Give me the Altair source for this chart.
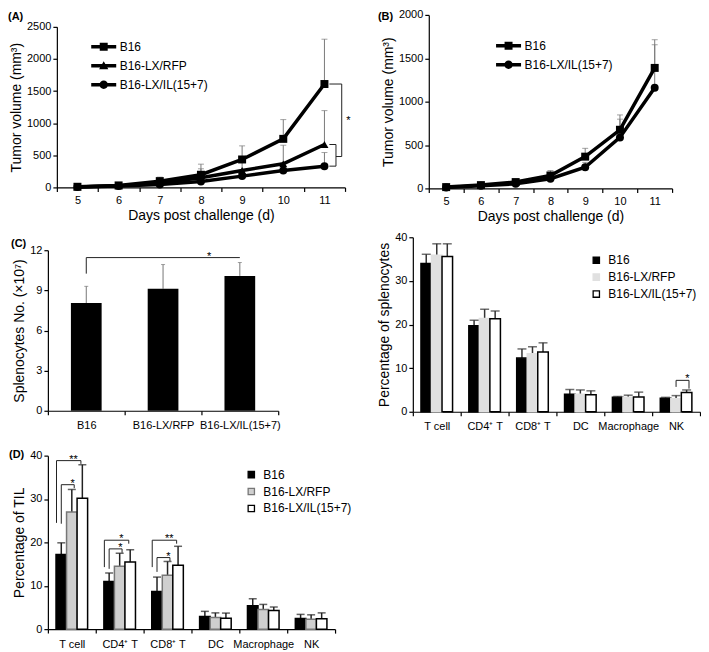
import json
import altair as alt
import pandas as pd

FONT = "Liberation Sans"

# ---------------- Panel A : tumour growth, three groups ----------------
days = [5, 6, 7, 8, 9, 10, 11]
a_names = ["B16", "B16-LX/RFP", "B16-LX/IL(15+7)"]
a_b16 = [10, 31, 98, 197, 435, 756, 1610]
a_b16_err = [18, 45, 160, 362, 647, 1056, 2308]
a_rfp = [8, 24, 70, 150, 264, 367, 668]
a_rfp_err = [14, 38, 130, 290, 430, 657, 1196]
a_il = [5, 21, 47, 93, 176, 264, 331]
a_il_err = [10, 30, 85, 160, 260, 330, 543]
a_yticks = [0, 500, 1000, 1500, 2000, 2500]
# significance brackets (x in days, y in mm3)
a_br_x = [11.12, 11.42, 11.42, 11.12, 11.28, 11.28]
a_br_x2 = [11.42, 11.42, 11.28, 11.28, 11.28, 11.12]
a_br_y = [1610, 1610, 481, 668, 668, 331]
a_br_y2 = [1610, 481, 481, 668, 331, 331]
a_star_x = [11.58]
a_star_y = [1040]
a_star_t = ["*"]

# ---------------- Panel B : tumour growth, two groups ----------------
b_names = ["B16", "B16-LX/IL(15+7)"]
b_b16 = [15, 38, 73, 149, 366, 676, 1389]
b_b16_err = [22, 48, 95, 206, 462, 847, 1714]
b_il = [11, 30, 53, 111, 244, 588, 1160]
b_il_err = [16, 38, 70, 168, 300, 798, 1656]
b_yticks = [0, 500, 1000, 1500, 2000]

# ---------------- Panel C : splenocyte numbers ----------------
c_cats = ["B16", "B16-LX/RFP", "B16-LX/IL(15+7)"]
c_vals = [8.05, 9.12, 10.08]
c_errs = [9.3, 10.93, 11.08]
c_yticks = [0, 3, 6, 9, 12]

# ---------------- Splenocyte subsets ----------------
cell_cats = ["T cell", "CD4\u207a T", "CD8\u207a T", "DC", "Macrophage", "NK"]
grp_names = ["B16", "B16-LX/RFP", "B16-LX/IL(15+7)"]
s_b16 = [34.0, 19.7, 12.3, 4.0, 3.3, 3.1]
s_b16_err = [36.1, 21.0, 14.4, 5.1, 3.5, 3.3]
s_rfp = [35.9, 21.4, 13.3, 4.0, 3.3, 3.0]
s_rfp_err = [38.5, 23.5, 14.9, 5.0, 3.8, 3.7]
s_il = [35.6, 21.3, 13.7, 3.9, 3.4, 4.4]
s_il_err = [38.5, 23.1, 15.8, 4.8, 4.5, 5.0]
pct_yticks = [0, 10, 20, 30, 40]

# ---------------- Panel D : TIL subsets ----------------
d_b16 = [17.2, 11.0, 8.7, 2.9, 5.4, 2.45]
d_b16_err = [19.9, 12.95, 12.0, 4.1, 7.0, 3.4]
d_rfp = [27.0, 14.5, 12.4, 2.7, 4.5, 2.3]
d_rfp_err = [32.2, 17.5, 15.6, 3.75, 5.7, 3.3]
d_il = [30.2, 15.5, 14.7, 2.5, 4.3, 2.4]
d_il_err = [37.9, 18.3, 19.1, 3.7, 5.1, 3.75]
# brackets: category, from bar, to bar, top, left foot, right foot, label
d_br_cat = [0, 0, 1, 1, 2, 2]
d_br_from = [0, 0, 0, 0, 0, 0]
d_br_to = [2, 1, 2, 1, 2, 1]
d_br_top = [38.85, 33.3, 20.5, 18.5, 20.5, 16.5]
d_br_lbot = [24.5, 24.3, 14.3, 13.9, 14.3, 13.2]
d_br_rbot = [38.1, 32.5, 19.7, 17.6, 19.7, 15.7]
d_br_lab = ["**", "*", "*", "*", "**", "*"]

s_br_cat = [5]
s_br_from = [1]
s_br_to = [2]
s_br_top = [7.2]
s_br_lbot = [5.7]
s_br_rbot = [5.3]
s_br_lab = ["*"]

TXT = dict(font=FONT, color="black")
HALF_TICKS = {"condition": {"test": "datum.value % 1 !== 0", "value": 1}, "value": 0}


def panel_label(text, px, py):
    return alt.Chart(pd.DataFrame({"t": [text]})).mark_text(
        align="left", baseline="middle", fontSize=11, fontWeight="bold", **TXT
    ).encode(text="t:N", x=alt.value(px), y=alt.value(py))


# ------------------------------------------------------------------
def line_panel(names, vals, errs, shapes, paths, width, height, ymax, yticks,
               xoff, ytop, leg_xy, label, label_xy, brackets=None, stars=None):
    rows = []
    for n, v, e in zip(names, vals, errs):
        for d, vv, ee in zip(days, v, e):
            rows.append({"day": d, "series": n, "vol": vv, "err": ee})
    df = pd.DataFrame(rows)
    xs = alt.Scale(domain=[4.5, 11.5], nice=False, zero=False, range=[xoff, width])
    ys = alt.Scale(domain=[0, ymax], nice=False, range=[height, ytop])
    xax = alt.Axis(
        values=[4.5 + 0.5 * k for k in range(15)],
        labelExpr="datum.value % 1 === 0 ? format(datum.value, 'd') : ''",
        tickOpacity=HALF_TICKS, title="Days post challenge (d)",
        labelOverlap=False, labelFlush=False, grid=False, labelPadding=3,
    )
    yax = alt.Axis(values=yticks, format="d", title="Tumor volume (mm\u00b3)", grid=False,
                   offset=-xoff)

    def X(f):
        return alt.X(f + ":Q", scale=xs, axis=xax)

    def Y(f):
        return alt.Y(f + ":Q", scale=ys, axis=yax)

    base = alt.Chart(df)
    err_line = base.mark_rule(color="#7a7a7a", strokeWidth=1).encode(
        x=X("day"), y=Y("vol"), y2="err:Q")
    err_cap = base.mark_tick(color="#7a7a7a", thickness=1, size=6, orient="horizontal").encode(
        x=X("day"), y=Y("err"))
    lines = base.mark_line(color="black", strokeWidth=3.5).encode(
        x=X("day"), y=Y("vol"), detail="series:N")
    pts = base.mark_point(filled=True, color="black", opacity=1, size=64).encode(
        x=X("day"), y=Y("vol"),
        shape=alt.Shape("series:N", scale=alt.Scale(domain=names, range=shapes), legend=None))
    leg = base.mark_point(filled=True, color="black", opacity=1, size=1).encode(
        x=X("day"), y=Y("vol"),
        shape=alt.Shape("series:N", scale=alt.Scale(domain=names, range=paths),
                        legend=alt.Legend(title=None, orient="none", legendX=leg_xy[0],
                                          legendY=leg_xy[1], symbolSize=196,
                                          symbolStrokeWidth=0, symbolFillColor="black",
                                          symbolOpacity=1, labelFontSize=12, labelOffset=9,
                                          rowPadding=6, labelFont=FONT, labelColor="black")))
    layers = [err_line, err_cap, lines, pts, leg]
    if brackets is not None:
        bdf = pd.DataFrame(brackets)
        layers.append(alt.Chart(bdf).mark_rule(color="#222222", strokeWidth=1).encode(
            x=X("x"), x2="x2:Q", y=Y("y"), y2="y2:Q"))
    if stars is not None:
        sdf = pd.DataFrame(stars)
        layers.append(alt.Chart(sdf).mark_text(fontSize=11, baseline="middle", **TXT).encode(
            x=X("x"), y=Y("y"), text="t:N"))
    layers.append(panel_label(label, *label_xy))
    return alt.layer(*layers).resolve_scale(shape="independent").properties(
        width=width, height=height)


# ------------------------------------------------------------------
def bar_panel(cats, groups, vals, errs, fills, strokes, bw, offs, width, height, ytop, ymax,
              yticks, ytitle, label, label_xy, err_color, err_w, cap_size,
              leg_xy=None, brackets=None, stroke_w=1.5):
    rows = []
    for gi, (g, v, e) in enumerate(zip(groups, vals, errs)):
        for ci, (vv, ee) in enumerate(zip(v, e)):
            c = ci + offs[gi]
            rows.append({"grp": g, "val": vv, "err": ee, "xc": c,
                         "x1": c - bw / 2, "x2": c + bw / 2})
    df = pd.DataFrame(rows)
    n = len(cats)
    xs = alt.Scale(domain=[-0.5, n - 0.5], nice=False, zero=False)
    ys = alt.Scale(domain=[0, ymax], nice=False, range=[height, ytop])
    xax = alt.Axis(
        values=[-0.5 + 0.5 * k for k in range(2 * n + 1)],
        labelExpr="datum.value % 1 === 0 ? " + json.dumps(cats) + "[datum.value] : ''",
        title=None, labelOverlap=False, labelFlush=False, tickOpacity=HALF_TICKS,
        grid=False, labelPadding=5,
    )
    yax = alt.Axis(values=yticks, title=ytitle, grid=False)

    def X(f):
        return alt.X(f + ":Q", scale=xs, axis=xax)

    def Y(f):
        return alt.Y(f + ":Q", scale=ys, axis=yax)

    base = alt.Chart(df)
    if leg_xy is not None:
        lg = alt.Legend(title=None, orient="none", legendX=leg_xy[0], legendY=leg_xy[1],
                        symbolType="square", symbolSize=40, symbolStrokeWidth=1.3,
                        labelFontSize=12, labelOffset=6, rowPadding=5, labelFont=FONT,
                        labelColor="black")
    else:
        lg = None
    col = alt.Color("grp:N", scale=alt.Scale(domain=groups, range=fills), legend=lg)
    stk = alt.Stroke("grp:N", scale=alt.Scale(domain=groups, range=strokes), legend=lg)
    bars = base.mark_bar(strokeWidth=stroke_w, opacity=1).encode(
        x=X("x1"), x2="x2:Q", y=Y("val"), y2=alt.datum(0), color=col, stroke=stk)
    err_line = base.mark_rule(color=err_color, strokeWidth=err_w).encode(
        x=X("xc"), y=Y("val"), y2="err:Q")
    err_cap = base.mark_tick(color=err_color, thickness=err_w, size=cap_size,
                             orient="horizontal").encode(x=X("xc"), y=Y("err"))
    layers = [err_line, bars, err_cap]
    if brackets is not None:
        segs, stars = brackets
        layers.append(alt.Chart(pd.DataFrame(segs)).mark_rule(color="#222222", strokeWidth=1).encode(
            x=X("x"), x2="x2:Q", y=Y("y"), y2="y2:Q"))
        layers.append(alt.Chart(pd.DataFrame(stars)).mark_text(
            fontSize=11, baseline="alphabetic", dy=2, **TXT).encode(
            x=X("x"), y=Y("y"), text="t:N"))
    if label:
        layers.append(panel_label(label, *label_xy))
    return alt.layer(*layers).properties(width=width, height=height)


def bracket_segments(cat, frm, to, top, lbot, rbot, lab, offs):
    segs, stars = [], []
    for c, f, t, tp, lb, rb, lb_ in zip(cat, frm, to, top, lbot, rbot, lab):
        outer = (t - f) >= 2
        xl = c + offs[f] + (-0.1 if outer else 0.0)
        xr = c + offs[t] + (-0.03 if outer else 0.05)
        segs += [dict(x=xl, x2=xr, y=tp, y2=tp), dict(x=xl, x2=xl, y=tp, y2=lb),
                 dict(x=xr, x2=xr, y=tp, y2=rb)]
        stars.append(dict(x=(xl + xr) / 2 + 0.1, y=tp, t=lb_))
    return segs, stars


# ---------------- build panels ----------------
line_w = "M-1.79,-0.25H1.79V0.25H-1.79Z"
p_sq = line_w + " M-0.57,-0.57H0.57V0.57H-0.57Z"
p_tri = line_w + " M0,-0.65L0.66,0.5L-0.66,0.5Z"
p_cir = line_w + " M-0.6,0A0.6,0.6 0 1,1 0.6,0A0.6,0.6 0 1,1 -0.6,0Z"

a_brackets = [dict(x=a, x2=b, y=c, y2=d) for a, b, c, d in zip(a_br_x, a_br_x2, a_br_y, a_br_y2)]
a_stars = [dict(x=a, y=b, t=c) for a, b, c in zip(a_star_x, a_star_y, a_star_t)]

chartA = line_panel(a_names, [a_b16, a_rfp, a_il], [a_b16_err, a_rfp_err, a_il_err],
                    ["square", "triangle-up", "circle"], [p_sq, p_tri, p_cir],
                    298, 173, 2500, a_yticks, 9, 12, (49, 25), "(A)", (-40, 2),
                    brackets=a_brackets, stars=a_stars)
chartB = line_panel(b_names, [b_b16, b_il], [b_b16_err, b_il_err],
                    ["square", "circle"], [p_sq, p_cir],
                    260, 174, 2000, b_yticks, 16, 0, (89, 24), "(B)", (-35, 2))

c_segs = [dict(x=0, x2=2, y=11.45, y2=11.45), dict(x=0, x2=0, y=11.45, y2=10.25)]
c_stars = [dict(x=1.6, y=11.45, t="*")]
chartC = bar_panel(c_cats, ["all"], [c_vals], [c_errs], ["black"], ["black"], 0.4, [0.0],
                   231, 174, 13, 12, c_yticks, "Splenocytes No. (\u00d710\u2077)", "(C)", (-37, 7),
                   "#777777", 1, 4, brackets=(c_segs, c_stars), stroke_w=0)

offs3 = [-0.22, 0.0, 0.22]
chartS = bar_panel(cell_cats, grp_names, [s_b16, s_rfp, s_il], [s_b16_err, s_rfp_err, s_il_err],
                   ["black", "#e0e0e0", "white"], ["black", "#e0e0e0", "black"], 0.22, offs3,
                   288, 175, 0, 40, pct_yticks, "Percentage of splenocytes", "", (0, 0),
                   "#333333", 1.5, 9, leg_xy=(178, 17),
                   brackets=bracket_segments(s_br_cat, s_br_from, s_br_to, s_br_top,
                                             s_br_lbot, s_br_rbot, s_br_lab, offs3))

chartD = bar_panel(cell_cats, grp_names, [d_b16, d_rfp, d_il], [d_b16_err, d_rfp_err, d_il_err],
                   ["black", "#cfcfcf", "white"], ["black", "#777777", "black"], 0.22, offs3,
                   288, 190, 16, 40, pct_yticks, "Percentage of TIL", "(D)", (-39, 15),
                   "#222222", 1.5, 8, leg_xy=(198, 29),
                   brackets=bracket_segments(d_br_cat, d_br_from, d_br_to, d_br_top,
                                             d_br_lbot, d_br_rbot, d_br_lab, offs3))

chart = alt.concat(
    chartA, chartB, chartC, chartS, chartD, columns=2, spacing={"row": 8, "column": 25},
    align="each",
).resolve_scale(shape="independent", color="independent", stroke="independent").properties(
    padding=0
).configure_view(stroke=None).configure_axis(
    labelFont=FONT, titleFont=FONT, labelFontSize=11, titleFontSize=14,
    titleFontWeight="normal", labelColor="black", titleColor="black",
    domainColor="black", tickColor="black", domainWidth=1.2, tickWidth=1.2, tickSize=4,
    labelPadding=2, titlePadding=3,
).configure_legend(labelFont=FONT)

chart.save("out.html", embed_options={"renderer": "svg", "actions": False})
